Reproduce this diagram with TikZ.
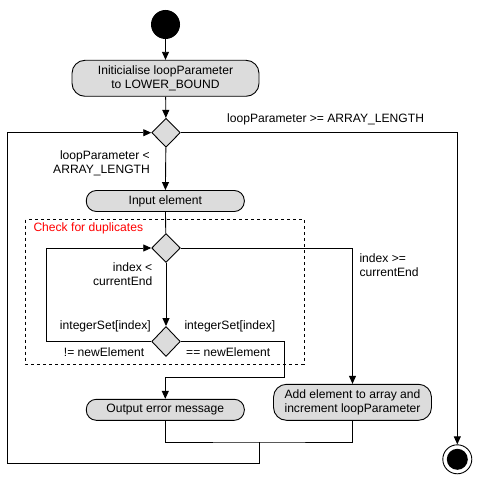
\documentclass[tikz,border=0pt]{standalone}
\usepackage{fontspec}
\setmainfont{Liberation Sans}
\usetikzlibrary{shapes.geometric,arrows.meta}
\definecolor{boxgray}{HTML}{DCDCDC}
\tikzset{
  x=1pt,y=-1pt,
  every node/.style={font=\fontsize{12.1}{14}\selectfont},
  flow/.style={line width=0.9pt},
  arr/.style={flow,-{Triangle[length=8pt,width=7pt]}},
  action/.style={draw,line width=0.9pt,fill=boxgray,rounded corners=11pt,align=center,inner sep=0pt,minimum width=158pt},
  choice/.style={draw,line width=0.9pt,fill=boxgray,diamond,inner sep=0pt,minimum width=28.6pt,minimum height=29pt},
  lbl/.style={inner sep=0pt,align=right},
  lbll/.style={inner sep=0pt,align=left},
}
\begin{document}
\begin{tikzpicture}
\useasboundingbox (0,0) rectangle (478,481);
% dashed region
\draw[line width=0.9pt,dash pattern=on 3pt off 3pt] (25.7,219.7) rectangle (304.3,364);
\node[inner sep=0pt,anchor=west,text=red] (dup) at (33.3,228.7) {Check for duplicates};
% nodes
\node[circle,fill=black,minimum size=29pt,inner sep=0pt] (start) at (165.5,24.5) {};
\node[action,minimum width=187pt,minimum height=36pt,rounded corners=13pt] (init) at (165.5,78.3) {Initicialise loopParameter\\to LOWER\_BOUND};
\node[choice] (d1) at (166,132.7) {};
\node[action,minimum height=21pt,rounded corners=10pt] (input) at (165.3,201) {Input element};
\node[choice] (d2) at (166,248) {};
\node[choice,minimum height=30pt] (d3) at (166,341.5) {};
\node[action,minimum height=21pt,rounded corners=10pt] (output) at (165.3,409.8) {Output error message};
\node[action,minimum height=36pt,rounded corners=13pt] (add) at (352.5,402.3) {Add element to array and\\increment loopParameter};
\node[circle,draw,line width=0.9pt,minimum size=29pt,inner sep=0pt] (end) at (457.3,459.3) {};
\fill (end.center) circle (10.5pt);
% coordinates
\coordinate (dr) at (284.3,341.5);
\coordinate (drb) at (284.3,377.3);
\coordinate (merge) at (259.3,442);
\coordinate (mergeb) at (259.3,463.3);
\coordinate (loopbl) at (7.3,463.3);
\coordinate (looptl) at (7.3,132.7);
\coordinate (ill) at (46.7,341.5);
\coordinate (itl) at (46.7,248);
% connectors
\draw[arr] (start) -- (init);
\draw[arr] (init) -- (d1);
\draw[arr] (d1) -- (input);
\draw[arr] (d1.east) -| (end.north);
\draw[flow] (input) -- (d2);
\draw[arr] (d2) -- (d3);
\draw[arr] (d3.west) -- (ill) -- (itl) -- (d2.west);
\draw[arr] (d2.east) -| (add.north);
\draw[arr] (d3.east) -- (dr) -- (drb) -| (output.north);
\draw[flow] (output.south) |- (merge) -| (add.south);
\draw[arr] (merge) -- (mergeb) -- (loopbl) -- (looptl) -- (d1.west);
% labels
\node[lbll,anchor=west] (lge) at (227,119) {loopParameter >= ARRAY\_LENGTH};
\node[lbl,anchor=east] (llt) at (150,163) {loopParameter <\\ARRAY\_LENGTH};
\node[lbl,anchor=east] (ilt) at (152.5,273.7) {index <\\currentEnd};
\node[lbll,anchor=west] (ige) at (359.3,264.7) {index >=\\currentEnd};
\node[lbl,anchor=east] (isl) at (151,326.7) {integerSet[index]};
\node[lbl,anchor=east] (ne) at (144.5,351.7) {!= newElement};
\node[lbll,anchor=west] (isr) at (184.3,326.7) {integerSet[index]};
\node[lbll,anchor=west] (eq) at (186,351.7) {== newElement};
\end{tikzpicture}
\end{document}
